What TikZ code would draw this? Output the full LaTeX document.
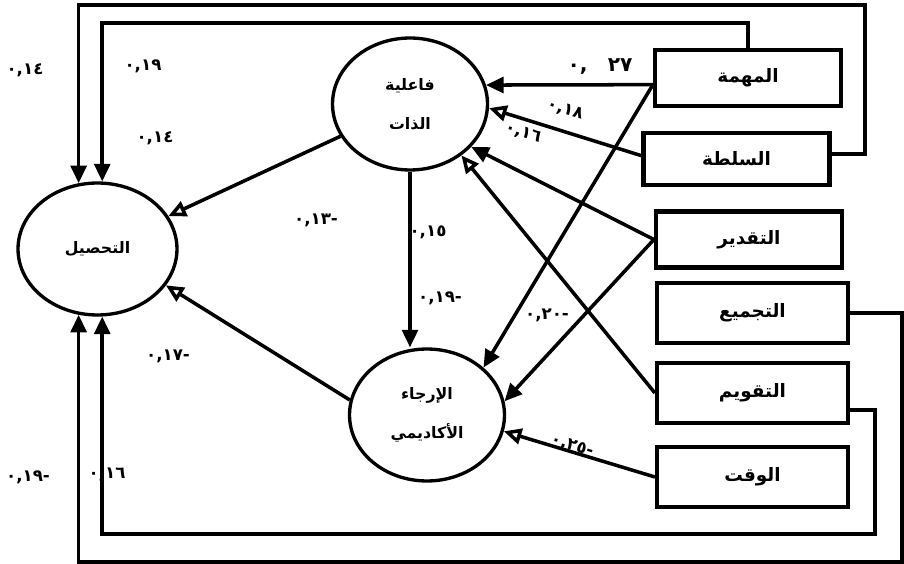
\documentclass[tikz,border=0pt]{standalone}
\usepackage{fontspec}
\usepackage{tikz}
\usetikzlibrary{positioning, arrows.meta, shapes.geometric}
\newfontfamily\arabicfont[Script=Arabic]{DejaVu Sans}
\newfontfamily\numfont{DejaVu Sans}
\TeXXeTstate=1
\newcommand{\artxt}[1]{\beginR #1\endR}

\begin{document}
\begin{tikzpicture}[x=0.02cm, y=-0.02cm,
  every node/.style={font=\arabicfont\bfseries\small},
  latent/.style={ellipse, draw, line width=1.9pt, minimum width=3.1cm, minimum height=2.64cm, inner sep=0pt, align=center},
  obs/.style={rectangle, draw, line width=2.4pt, minimum width=3.72cm, minimum height=1.12cm, font=\arabicfont\bfseries\fontsize{10.5}{12}\selectfont},
  wide/.style={minimum width=3.82cm, minimum height=1.2cm},
  fpath/.style={line width=2pt, -{Triangle[length=10pt, width=9pt]}},
  opath/.style={line width=2pt, -{Triangle[open, length=10pt, width=9pt, fill=white]}},
  coef/.style={inner sep=0pt, font=\numfont\bfseries\fontsize{9.5}{11}\selectfont}]
\useasboundingbox (0,0) rectangle (904,564);

% Latent variables
\node[latent] (self) at (410,104) {\artxt{فاعلية}\\[11pt]\artxt{الذات}};
\node[latent, minimum width=3.18cm] (achieve) at (97.5,249) {\artxt{التحصيل}};
\node[latent] (delay) at (427,415) {\artxt{الإرجاء}\\[11pt]\artxt{الأكاديمي}};

% Observed variables
\node[obs] (task) at (748,78) {\artxt{المهمة}};
\node[obs, minimum height=1.04cm] (auth) at (736.5,159) {\artxt{السلطة}};
\node[obs] (apprec) at (749,239.5) {\artxt{التقدير}};
\node[obs, wide] (group) at (752.5,313) {\artxt{التجميع}};
\node[obs, wide] (evalu) at (752.5,393) {\artxt{التقويم}};
\node[obs, wide] (time) at (752.5,477) {\artxt{الوقت}};

% Paths between latent variables
\draw[opath] (self) -- (achieve);
\draw[opath] (delay.169) -- (achieve.332);
\draw[fpath] (self.south) -- (self.south |- delay.north);

% Paths from observed variables
\draw[fpath] (task.184) -- (self.14);
\draw[fpath] (task.184) -- (delay.40);
\draw[opath] (auth.178) -- (self.-3);
\draw[fpath] (apprec.west) -- (self.-35);
\draw[fpath] (apprec.west) -- (delay.10);
\draw[opath] (evalu.west) -- (self.-45);
\draw[opath] (time.west) -- (delay.-12);

% Direct paths to achievement (round the frame)
\coordinate (topout) at (865,5);
\coordinate (botout) at (902,562);
\coordinate (botin) at (875,534);
\draw[fpath] (task.north) -- ++(0,-25) -| (achieve.86);
\draw[fpath] (auth.3) -| (topout) -| (achieve.106);
\draw[fpath] (group.east) -| (botout) -| (achieve.254);
\draw[fpath] (evalu.-10) -| (botin) -| (achieve.274);

% Coefficients
\node[coef] (wAuthAch) at (25,70) {٠,١٤};
\node[coef] (wTaskAch) at (143,66) {٠,١٩};
\node[coef] (wSelfAch) at (155,138) {٠,١٤};
\node[coef] (wDelSelf) at (316,220) {٠,١٣-};
\node[coef] (wSelfDel) at (428,232) {٠,١٥};
\node[coef] (wSelfDelB) at (440,298) {٠,١٩-};
\node[coef] (wApDel) at (547,315) {٠,٢٠-};
\node[coef] (wDelAch) at (168,356) {٠,١٧-};
\node[coef] (wGrpAch) at (28,477) {٠,١٩-};
\node[coef] (wEvAch) at (107,474) {٠,١٦};
\node[coef, font=\numfont\bfseries\fontsize{11.5}{13}\selectfont] (wTaskSelf) at (600,67) {٠,\quad ٢٧};
\node[coef, rotate=-16] (wAuthSelf) at (565,110) {٠,١٨};
\node[coef, rotate=-18] (wApSelf) at (523,133) {٠,١٦};
\node[coef, rotate=-17] (wTimeDel) at (572,446) {٠,٢٥-};

\end{tikzpicture}
\end{document}
